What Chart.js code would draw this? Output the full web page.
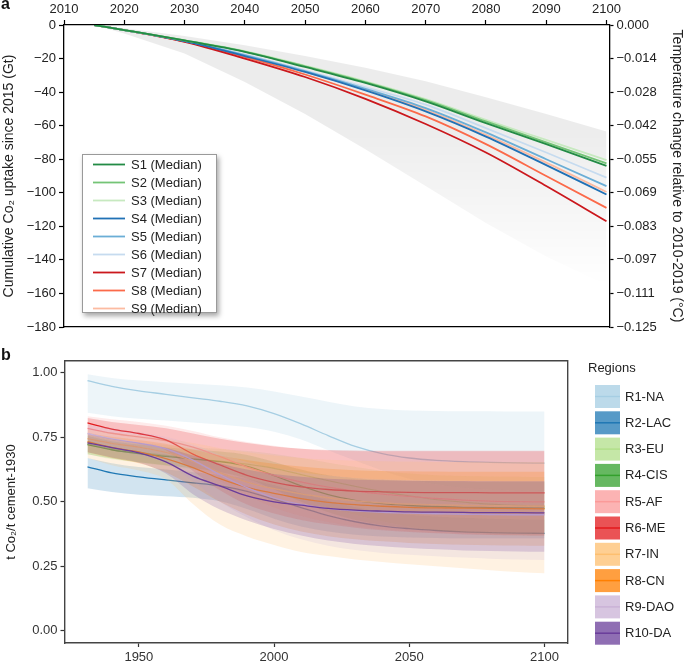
<!DOCTYPE html>
<html>
<head>
<meta charset="utf-8">
<script src="https://cdn.jsdelivr.net/npm/chart.js@4.4.1/dist/chart.umd.min.js"></script>
<style>
body { margin: 0; background: #fff; width: 685px; height: 664px; position: relative; overflow: hidden; font-family: "Liberation Sans", Arial, sans-serif; }
#wa { position: absolute; left: 0; top: 0; width: 685px; height: 340px; }
#wb { position: absolute; left: 0; top: 340px; width: 685px; height: 324px; }
.tag { position: absolute; font-weight: bold; font-size: 16px; color: #111; }
</style>
</head>
<body>
<div id="wa"><canvas id="ca" width="685" height="340"></canvas></div>
<div id="wb"><canvas id="cb" width="685" height="324"></canvas></div>
<div class="tag" style="left:1px;top:-5px">a</div>
<div class="tag" style="left:1px;top:346px">b</div>
<script>
// ---- panel a data ----
var yearsA = [2015, 2020, 2030, 2040, 2050, 2060, 2070, 2080, 2090, 2100];
var xTicksA = [2010, 2020, 2030, 2040, 2050, 2060, 2070, 2080, 2090, 2100];
var yTicksA = [-180, -160, -140, -120, -100, -80, -60, -40, -20, 0];
var rightLabelsA = ['\u22120.125', '\u22120.111', '\u22120.097', '\u22120.083', '\u22120.069', '\u22120.055', '\u22120.042', '\u22120.028', '\u22120.014', '0.000'];
var scenLabels = ['S1 (Median)', 'S2 (Median)', 'S3 (Median)', 'S4 (Median)', 'S5 (Median)', 'S6 (Median)', 'S7 (Median)', 'S8 (Median)', 'S9 (Median)'];
var scenColors = ['#238b45', '#74c476', '#c7e9c0', '#2171b5', '#6baed6', '#c6dbef', '#cb181d', '#fb6a4a', '#fcbba1'];
var s1 = [0, -3, -9.2, -16, -25, -34.5, -45.5, -58.5, -71, -84];
var s2 = [0, -3, -9.1, -15.8, -24.6, -34, -44.8, -57.5, -70, -82.5];
var s3 = [0, -3, -9.0, -15.6, -24.3, -33.6, -44.2, -56.5, -68.5, -80.5];
var s4 = [0, -3, -9.6, -18.5, -28, -39, -51.5, -66.5, -83.5, -101];
var s5 = [0, -3, -9.5, -18, -27.5, -38, -49.5, -64, -80, -96];
var s6 = [0, -3, -9.4, -17.5, -27, -37, -47.5, -61.5, -76, -91];
var s7 = [0, -3, -10, -20, -31, -44, -59, -76, -96, -117];
var s8 = [0, -3, -9.8, -19, -29.5, -41.5, -54.5, -71, -90, -109];
var s9 = [0, -3, -9.6, -18.5, -28, -38.5, -50.5, -65.5, -82, -99.5];
var bandHiA = [0, -2, -6.5, -12, -18.5, -25.5, -33.5, -43, -53, -63.5];
var bandLoA = [0, -5, -17, -34, -53, -74, -96, -118, -138, -155];
var scenValues = [s1, s2, s3, s4, s5, s6, s7, s8, s9];

// ---- panel b data ----
var yearsB = [1931, 1940, 1950, 1960, 1970, 1980, 1990, 2000, 2010, 2020, 2030, 2040, 2050, 2060, 2070, 2080, 2090, 2100];
var xTicksB = [1950, 2000, 2050, 2100];
var yTicksB = [0, 0.25, 0.5, 0.75, 1];
var regionLabels = ['R1-NA', 'R2-LAC', 'R3-EU', 'R4-CIS', 'R5-AF', 'R6-ME', 'R7-IN', 'R8-CN', 'R9-DAO', 'R10-DA'];
var regionColors = ['#a6cee3', '#1f78b4', '#b2df8a', '#33a02c', '#fb9a99', '#e31a1c', '#fdbf6f', '#ff7f00', '#cab2d6', '#6a3d9a'];
var r1 = [0.970, 0.948, 0.930, 0.917, 0.903, 0.890, 0.872, 0.842, 0.802, 0.757, 0.715, 0.687, 0.670, 0.661, 0.656, 0.653, 0.651, 0.650];
var r1hi = [0.995, 0.980, 0.970, 0.964, 0.958, 0.952, 0.943, 0.928, 0.908, 0.888, 0.870, 0.860, 0.854, 0.852, 0.851, 0.851, 0.850, 0.850];
var r1lo = [0.845, 0.832, 0.822, 0.815, 0.808, 0.800, 0.790, 0.772, 0.742, 0.700, 0.660, 0.622, 0.590, 0.568, 0.555, 0.548, 0.544, 0.542];
var r2 = [0.636, 0.612, 0.597, 0.585, 0.574, 0.562, 0.541, 0.510, 0.478, 0.447, 0.423, 0.406, 0.396, 0.389, 0.384, 0.381, 0.379, 0.378];
var r2hi = [0.670, 0.650, 0.635, 0.625, 0.615, 0.605, 0.590, 0.565, 0.535, 0.505, 0.480, 0.462, 0.450, 0.443, 0.438, 0.435, 0.433, 0.432];
var r2lo = [0.553, 0.538, 0.528, 0.522, 0.516, 0.502, 0.472, 0.435, 0.405, 0.385, 0.373, 0.366, 0.362, 0.360, 0.359, 0.359, 0.359, 0.359];
var r3 = [0.725, 0.706, 0.692, 0.680, 0.668, 0.658, 0.646, 0.630, 0.606, 0.582, 0.560, 0.540, 0.523, 0.509, 0.499, 0.491, 0.486, 0.483];
var r3hi = [0.760, 0.742, 0.730, 0.720, 0.712, 0.705, 0.697, 0.686, 0.670, 0.652, 0.635, 0.620, 0.610, 0.603, 0.600, 0.598, 0.597, 0.596];
var r3lo = [0.685, 0.665, 0.652, 0.640, 0.625, 0.605, 0.580, 0.550, 0.515, 0.480, 0.450, 0.425, 0.405, 0.390, 0.380, 0.374, 0.371, 0.370];
var r4 = [0.722, 0.702, 0.687, 0.676, 0.666, 0.656, 0.638, 0.602, 0.562, 0.528, 0.506, 0.493, 0.486, 0.482, 0.479, 0.478, 0.477, 0.476];
var r4hi = [0.755, 0.735, 0.722, 0.712, 0.703, 0.695, 0.682, 0.655, 0.625, 0.603, 0.592, 0.586, 0.582, 0.580, 0.579, 0.578, 0.578, 0.578];
var r4lo = [0.685, 0.668, 0.654, 0.642, 0.630, 0.615, 0.590, 0.548, 0.500, 0.460, 0.430, 0.410, 0.397, 0.388, 0.382, 0.378, 0.376, 0.375];
var r5 = [0.785, 0.766, 0.752, 0.737, 0.712, 0.675, 0.635, 0.603, 0.577, 0.557, 0.542, 0.530, 0.521, 0.513, 0.507, 0.503, 0.501, 0.500];
var r5hi = [0.832, 0.820, 0.810, 0.795, 0.775, 0.750, 0.732, 0.718, 0.706, 0.698, 0.696, 0.695, 0.695, 0.695, 0.695, 0.695, 0.695, 0.695];
var r5lo = [0.740, 0.718, 0.700, 0.675, 0.635, 0.580, 0.525, 0.478, 0.445, 0.422, 0.405, 0.394, 0.386, 0.380, 0.376, 0.373, 0.371, 0.370];
var r6 = [0.806, 0.782, 0.765, 0.740, 0.685, 0.643, 0.603, 0.576, 0.558, 0.548, 0.542, 0.539, 0.537, 0.536, 0.536, 0.535, 0.535, 0.535];
var r6hi = [0.825, 0.810, 0.798, 0.785, 0.765, 0.745, 0.728, 0.715, 0.706, 0.701, 0.699, 0.698, 0.698, 0.698, 0.698, 0.698, 0.698, 0.698];
var r6lo = [0.765, 0.745, 0.728, 0.700, 0.620, 0.545, 0.490, 0.455, 0.430, 0.413, 0.400, 0.390, 0.383, 0.378, 0.374, 0.372, 0.371, 0.370];
var r7 = [0.745, 0.727, 0.712, 0.692, 0.658, 0.613, 0.577, 0.551, 0.531, 0.516, 0.504, 0.496, 0.491, 0.488, 0.486, 0.485, 0.484, 0.483];
var r7hi = [0.780, 0.768, 0.758, 0.745, 0.728, 0.708, 0.692, 0.680, 0.670, 0.663, 0.659, 0.657, 0.656, 0.655, 0.655, 0.655, 0.655, 0.655];
var r7lo = [0.670, 0.642, 0.622, 0.588, 0.492, 0.412, 0.366, 0.333, 0.306, 0.290, 0.277, 0.267, 0.258, 0.250, 0.243, 0.235, 0.228, 0.223];
var r8 = [0.733, 0.711, 0.694, 0.668, 0.633, 0.590, 0.556, 0.533, 0.513, 0.498, 0.489, 0.483, 0.479, 0.477, 0.476, 0.475, 0.474, 0.473];
var r8hi = [0.768, 0.752, 0.740, 0.725, 0.703, 0.680, 0.662, 0.648, 0.637, 0.628, 0.623, 0.620, 0.619, 0.618, 0.617, 0.617, 0.617, 0.617];
var r8lo = [0.692, 0.670, 0.650, 0.615, 0.560, 0.500, 0.450, 0.412, 0.385, 0.367, 0.355, 0.347, 0.341, 0.337, 0.334, 0.332, 0.331, 0.330];
var r9 = [0.765, 0.745, 0.728, 0.705, 0.662, 0.605, 0.555, 0.515, 0.490, 0.474, 0.465, 0.459, 0.456, 0.454, 0.452, 0.451, 0.450, 0.450];
var r9hi = [0.800, 0.785, 0.770, 0.752, 0.722, 0.685, 0.655, 0.632, 0.615, 0.602, 0.593, 0.588, 0.585, 0.583, 0.582, 0.581, 0.580, 0.580];
var r9lo = [0.722, 0.700, 0.680, 0.650, 0.580, 0.500, 0.440, 0.390, 0.355, 0.330, 0.313, 0.302, 0.295, 0.289, 0.284, 0.280, 0.277, 0.275];
var r10 = [0.729, 0.710, 0.690, 0.655, 0.600, 0.562, 0.523, 0.500, 0.487, 0.475, 0.468, 0.464, 0.461, 0.460, 0.459, 0.458, 0.458, 0.457];
var r10hi = [0.762, 0.745, 0.730, 0.710, 0.680, 0.650, 0.625, 0.608, 0.597, 0.590, 0.586, 0.584, 0.582, 0.581, 0.581, 0.580, 0.580, 0.580];
var r10lo = [0.692, 0.672, 0.652, 0.610, 0.530, 0.470, 0.428, 0.395, 0.370, 0.350, 0.337, 0.328, 0.321, 0.316, 0.312, 0.310, 0.308, 0.307];
var regionMid = [r1, r2, r3, r4, r5, r6, r7, r8, r9, r10];
var regionHi = [r1hi, r2hi, r3hi, r4hi, r5hi, r6hi, r7hi, r8hi, r9hi, r10hi];
var regionLo = [r1lo, r2lo, r3lo, r4lo, r5lo, r6lo, r7lo, r8lo, r9lo, r10lo];

var FONT = '"Liberation Sans", Arial, sans-serif';
Chart.defaults.font.family = FONT;
Chart.defaults.color = '#222';

function pairs(xs, ys) {
  return xs.map(function(x, i) { return {x: x, y: ys[i]}; });
}
function rgba(hex, a) {
  var n = parseInt(hex.slice(1), 16);
  return 'rgba(' + (n >> 16) + ',' + ((n >> 8) & 255) + ',' + (n & 255) + ',' + a + ')';
}
function minus(v) {
  return v < 0 ? '\u2212' + Math.abs(v) : String(v);
}

// ---------- chart a ----------
var dsA = [];
dsA.push({
  label: 'range', data: pairs(yearsA, bandHiA), borderWidth: 0, pointRadius: 0, fill: '+1', order: 2,
  backgroundColor: function(c) {
    var ch = c.chart;
    if (!ch.chartArea) return 'rgba(0,0,0,0.07)';
    var y = ch.scales.y;
    var g = ch.ctx.createLinearGradient(0, y.getPixelForValue(-60), 0, y.getPixelForValue(-155));
    g.addColorStop(0, 'rgba(0,0,0,0.075)');
    g.addColorStop(1, 'rgba(0,0,0,0)');
    return g;
  }
});
dsA.push({label: 'range lo', data: pairs(yearsA, bandLoA), borderWidth: 0, pointRadius: 0, fill: false, order: 2});
scenLabels.forEach(function(l, i) {
  dsA.push({
    label: l, data: pairs(yearsA, scenValues[i]), borderColor: scenColors[i], borderWidth: 1.8,
    pointRadius: 0, fill: false, order: 1, cubicInterpolationMode: 'monotone'
  });
});

var legendA = {
  id: 'legendA',
  afterDraw: function(chart) {
    var ctx = chart.ctx;
    ctx.save();
    ctx.shadowColor = 'rgba(0,0,0,0.35)';
    ctx.shadowBlur = 5;
    ctx.shadowOffsetX = 2;
    ctx.shadowOffsetY = 3;
    ctx.fillStyle = '#fff';
    ctx.fillRect(82, 154, 135, 159);
    ctx.restore();
    ctx.save();
    ctx.strokeStyle = '#9a9a9a';
    ctx.lineWidth = 1;
    ctx.strokeRect(82.5, 154.5, 134, 158);
    ctx.font = '13px ' + FONT;
    ctx.textBaseline = 'middle';
    scenLabels.forEach(function(l, i) {
      var y = 164.5 + 18 * i;
      ctx.strokeStyle = scenColors[i];
      ctx.lineWidth = 1.8;
      ctx.beginPath();
      ctx.moveTo(93, y);
      ctx.lineTo(125, y);
      ctx.stroke();
      ctx.fillStyle = '#222';
      ctx.fillText(l, 131, y + 0.5);
    });
    ctx.restore();
  }
};

new Chart(document.getElementById('ca'), {
  type: 'line',
  data: {datasets: dsA},
  plugins: [legendA],
  options: {
    responsive: false, animation: false,
    layout: {padding: {top: 0, right: 0, bottom: 13, left: 0}},
    plugins: {legend: {display: false}, tooltip: {enabled: false}},
    scales: {
      x: {
        type: 'linear', position: 'top', min: 2010, max: 2100.5,
        afterBuildTicks: function(s) { s.ticks = xTicksA.map(function(v) { return {value: v}; }); },
        afterFit: function(s) { s.height = 25; },
        ticks: {autoSkip: false, maxRotation: 0, font: {size: 13}, color: '#222', padding: 3, callback: function(v) { return String(v); }},
        grid: {drawOnChartArea: false, tickLength: 5, color: '#000', tickWidth: 1.2},
        border: {color: '#000', width: 1.3}
      },
      xb: {
        type: 'linear', position: 'bottom', min: 2010, max: 2100.5,
        afterFit: function(s) { s.height = 0; },
        ticks: {display: false}, grid: {display: false},
        border: {display: true, color: '#000', width: 1.3}
      },
      y: {
        type: 'linear', position: 'left', min: -180, max: 0,
        afterBuildTicks: function(s) { s.ticks = yTicksA.map(function(v) { return {value: v}; }); },
        afterFit: function(s) { s.width = 64; },
        ticks: {autoSkip: false, font: {size: 13}, color: '#222', padding: 3, callback: function(v) { return minus(v); }},
        grid: {drawOnChartArea: false, tickLength: 5, color: '#000', tickWidth: 1.2},
        border: {color: '#000', width: 1.3},
        title: {display: true, text: 'Cumulative Co\u2082 uptake since 2015 (Gt)', font: {size: 14}, color: '#222', padding: 1}
      },
      y2: {
        type: 'linear', position: 'right', min: -180, max: 0,
        afterBuildTicks: function(s) { s.ticks = yTicksA.map(function(v) { return {value: v}; }); },
        afterFit: function(s) { s.width = 75.5; },
        ticks: {autoSkip: false, font: {size: 13}, color: '#222', padding: 3, callback: function(v) { return rightLabelsA[yTicksA.indexOf(v)]; }},
        grid: {drawOnChartArea: false, tickLength: 4, color: '#000', tickWidth: 1.2},
        border: {color: '#000', width: 1.3},
        title: {display: true, text: 'Temperature change relative to 2010-2019 (\u00b0C)', font: {size: 14}, color: '#222', padding: 0}
      }
    }
  }
});

// ---------- chart b ----------
// each region: ribbon then line, later regions drawn over earlier ones
var dsB = [];
regionLabels.forEach(function(l, i) {
  var base = 40 - 3 * i;
  dsB.push({label: l + ' hi', data: pairs(yearsB, regionHi[i]), borderWidth: 0, pointRadius: 0, fill: '+1',
    backgroundColor: rgba(regionColors[i], 0.2), order: base, cubicInterpolationMode: 'monotone'});
  dsB.push({label: l + ' lo', data: pairs(yearsB, regionLo[i]), borderWidth: 0, pointRadius: 0, fill: false,
    order: base - 1, cubicInterpolationMode: 'monotone'});
  dsB.push({label: l, data: pairs(yearsB, regionMid[i]), borderColor: regionColors[i], borderWidth: 1.3,
    pointRadius: 0, fill: false, order: base - 2, cubicInterpolationMode: 'monotone'});
});

var legendB = {
  id: 'legendB',
  afterDraw: function(chart) {
    var ctx = chart.ctx;
    ctx.save();
    ctx.font = '13px ' + FONT;
    ctx.textBaseline = 'middle';
    ctx.fillStyle = '#222';
    ctx.fillText('Regions', 588, 28);
    regionLabels.forEach(function(l, i) {
      var top = 45 + 26.3 * i;
      ctx.fillStyle = rgba(regionColors[i], 0.75);
      ctx.fillRect(595, top, 25, 23);
      ctx.strokeStyle = regionColors[i];
      ctx.lineWidth = 1.5;
      ctx.beginPath();
      ctx.moveTo(595, top + 11.5);
      ctx.lineTo(620, top + 11.5);
      ctx.stroke();
      ctx.fillStyle = '#222';
      ctx.fillText(l, 625, top + 12);
    });
    ctx.restore();
  }
};

new Chart(document.getElementById('cb'), {
  type: 'line',
  data: {datasets: dsB},
  plugins: [legendB],
  options: {
    responsive: false, animation: false,
    layout: {padding: {top: 21, right: 117.5, bottom: 0, left: 0}},
    plugins: {legend: {display: false}, tooltip: {enabled: false}},
    scales: {
      x: {
        type: 'linear', position: 'bottom', min: 1922.5, max: 2108.5,
        afterBuildTicks: function(s) { s.ticks = xTicksB.map(function(v) { return {value: v}; }); },
        afterFit: function(s) { s.height = 21; },
        ticks: {autoSkip: false, maxRotation: 0, font: {size: 13}, color: '#333', padding: 3, callback: function(v) { return String(v); }},
        grid: {drawOnChartArea: false, tickLength: 4, color: '#333', tickWidth: 1.2},
        border: {color: '#444', width: 1.4}
      },
      xt: {
        type: 'linear', position: 'top', min: 1922.5, max: 2108.5,
        afterFit: function(s) { s.height = 0; },
        ticks: {display: false}, grid: {display: false},
        border: {display: true, color: '#444', width: 1.4}
      },
      y: {
        type: 'linear', position: 'left', min: -0.047, max: 1.046,
        afterBuildTicks: function(s) { s.ticks = yTicksB.map(function(v) { return {value: v}; }); },
        afterFit: function(s) { s.width = 64.5; },
        ticks: {autoSkip: false, font: {size: 13}, color: '#333', padding: 3, callback: function(v) { return v.toFixed(2); }},
        grid: {drawOnChartArea: false, tickLength: 4, color: '#333', tickWidth: 1.2},
        border: {color: '#444', width: 1.4},
        title: {display: true, text: 't Co\u2082/t cement-1930', font: {size: 13}, color: '#222', padding: {top: 4, bottom: 0}}
      },
      yr: {
        type: 'linear', position: 'right', min: -0.047, max: 1.046,
        afterFit: function(s) { s.width = 0; },
        ticks: {display: false}, grid: {display: false},
        border: {display: true, color: '#444', width: 1.4}
      }
    }
  }
});
</script>
</body>
</html>
